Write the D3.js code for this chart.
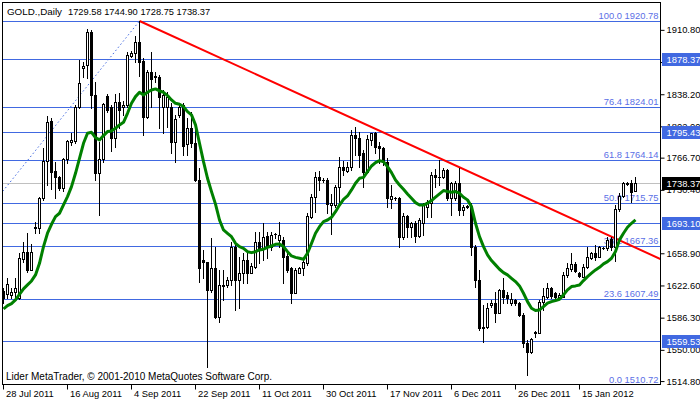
<!DOCTYPE html>
<html><head><meta charset="utf-8">
<script src="https://cdn.jsdelivr.net/npm/d3@7"></script>
<style>
html,body{margin:0;padding:0;background:#fff;}
svg{display:block;font-family:"Liberation Sans",Arial,sans-serif;font-size:9.4px;}
</style></head><body>
<svg id="c" width="700" height="402"></svg>
<script>
// ---------- data ----------
const symbolTitle = "GOLD.,Daily";
const lastOHLC = "1729.58 1744.90 1728.75 1738.37";
const copyright = "Lider MetaTrader, \u00A9 2001-2010 MetaQuotes Software Corp.";
const dateLabels = ["28 Jul 2011","16 Aug 2011","4 Sep 2011","22 Sep 2011","11 Oct 2011","30 Oct 2011","17 Nov 2011","6 Dec 2011","26 Dec 2011","15 Jan 2012"];
const dateLabelBars = [0,16,32,48,64,80,96,112,128,144];
const openV = [
1616.0,1612.7,1611.9,1614.9,1608.2,1652.5,1660.0,1640.1,1687.1,1687.1,
1720.9,1763.0,1808.1,1751.7,1745.3,1732.2,1765.3,1784.8,1785.5,1824.3,
1867.5,1871.2,1908.1,1837.4,1749.1,1765.3,1836.3,1824.3,1789.3,1829.1,
1824.3,1826.1,1881.8,1884.4,1896.8,1875.7,1813.0,1863.0,1857.7,1858.1,
1824.3,1824.3,1824.3,1784.8,1814.9,1826.1,1781.8,1800.6,1782.9,1741.6,
1651.4,1648.8,1617.6,1641.9,1587.4,1622.0,1623.2,1628.8,1666.4,1628.8,
1636.3,1651.3,1637.1,1643.8,1672.0,1664.5,1678.4,1666.4,1680.3,1673.9,
1673.9,1655.8,1641.9,1614.5,1637.1,1641.9,1647.6,1700.2,1722.0,1745.3,
1741.5,1741.5,1713.0,1713.3,1734.0,1756.6,1752.1,1755.8,1792.3,1788.5,
1771.6,1750.9,1786.6,1794.1,1779.9,1777.2,1762.2,1719.7,1720.9,1720.9,
1676.9,1701.0,1688.9,1693.4,1678.4,1692.7,1711.5,1715.3,1747.2,1745.4,
1745.4,1752.9,1720.9,1720.9,1738.6,1707.8,1711.5,1711.5,1666.4,1628.9,
1574.4,1575.5,1600.7,1603.3,1592.0,1617.6,1612.0,1603.3,1606.3,1603.3,
1589.4,1557.5,1548.1,1569.5,1569.5,1604.4,1610.1,1619.5,1613.8,1610.1,
1610.1,1634.5,1640.9,1646.9,1636.4,1632.6,1643.9,1653.3,1658.9,1655.2,
1664.5,1664.6,1674.7,1666.0,1709.0,1724.0,1737.4,1738.0,1729.58];
const highV = [
1620.0,1631.5,1619.4,1630.7,1658.9,1672.0,1681.5,1669.0,1694.6,1722.8,
1778.0,1814.1,1811.1,1762.2,1746.5,1766.8,1786.7,1794.2,1826.1,1876.9,
1875.0,1911.8,1910.7,1852.4,1784.8,1828.0,1838.2,1826.1,1838.9,1839.3,
1830.6,1885.5,1887.0,1904.3,1920.78,1879.5,1865.6,1886.3,1863.0,1860.0,
1843.0,1841.2,1828.0,1814.9,1826.9,1828.0,1811.1,1818.6,1807.3,1754.7,
1662.7,1649.5,1675.8,1666.4,1640.1,1640.1,1632.6,1672.0,1672.0,1655.1,
1658.9,1658.9,1647.6,1683.3,1683.3,1692.7,1683.3,1683.3,1682.2,1694.6,
1677.6,1658.9,1643.8,1641.9,1643.8,1653.2,1704.0,1725.7,1750.9,1751.7,
1743.4,1743.4,1725.7,1735.9,1767.8,1763.3,1762.2,1797.9,1801.7,1796.0,
1775.4,1792.3,1794.9,1796.0,1784.8,1779.1,1766.0,1735.9,1722.0,1722.7,
1704.0,1702.1,1694.6,1695.7,1698.3,1715.3,1719.1,1751.0,1753.6,1764.1,
1754.8,1753.6,1739.7,1740.9,1754.8,1713.4,1713.4,1715.3,1668.3,1640.1,
1600.7,1602.6,1606.3,1615.7,1618.3,1630.7,1615.7,1613.8,1607.1,1604.4,
1591.3,1561.2,1563.1,1571.7,1606.3,1619.5,1625.9,1621.4,1615.7,1613.8,
1638.3,1647.6,1659.7,1649.5,1638.3,1646.9,1665.7,1660.8,1668.3,1667.2,
1665.7,1677.7,1677.7,1713.0,1727.0,1739.0,1739.5,1741.6,1744.90];
const lowV = [
1603.0,1608.2,1608.2,1608.2,1607.4,1649.5,1638.2,1640.1,1681.5,1681.5,
1719.0,1735.9,1731.4,1721.7,1730.3,1729.2,1760.4,1781.0,1782.9,1822.4,
1858.1,1857.0,1822.4,1741.6,1702.1,1762.2,1818.6,1774.3,1779.2,1799.8,
1814.9,1824.3,1880.6,1875.0,1859.2,1792.3,1811.1,1824.3,1852.4,1799.8,
1794.2,1801.7,1771.6,1762.2,1813.0,1769.8,1769.8,1779.2,1740.0,1627.0,
1630.7,1531.1,1615.7,1585.6,1581.8,1606.2,1621.3,1623.2,1595.0,1596.9,
1625.0,1625.0,1636.3,1641.9,1647.6,1651.3,1653.2,1662.6,1675.8,1666.4,
1625.8,1638.2,1602.5,1613.8,1636.3,1634.4,1645.7,1698.3,1705.8,1730.3,
1739.7,1704.0,1680.7,1711.5,1715.2,1747.2,1750.9,1752.8,1769.7,1756.6,
1734.0,1749.0,1781.0,1771.6,1760.3,1758.4,1711.5,1709.6,1719.0,1666.4,
1674.6,1677.6,1677.6,1672.0,1677.6,1679.6,1700.3,1700.3,1734.1,1736.0,
1743.5,1719.1,1702.1,1719.1,1702.1,1702.1,1709.7,1657.0,1621.4,1572.5,
1559.3,1574.4,1598.8,1581.9,1591.3,1602.6,1602.6,1600.7,1600.7,1588.3,
1553.7,1521.8,1546.2,1565.0,1568.7,1595.0,1608.2,1608.2,1608.2,1608.2,
1609.3,1632.6,1639.4,1638.3,1632.6,1631.9,1642.0,1652.2,1651.4,1654.4,
1663.4,1662.7,1662.7,1650.0,1706.0,1722.0,1736.0,1717.0,1728.75];
const closeV = [
1608.0,1624.0,1615.7,1619.4,1653.3,1660.0,1640.1,1660.0,1688.6,1720.9,
1763.0,1807.3,1751.0,1745.3,1732.2,1765.3,1785.5,1786.7,1824.3,1850.6,
1870.5,1908.1,1837.4,1749.1,1765.3,1826.9,1820.5,1789.3,1829.1,1820.5,
1826.1,1882.5,1884.4,1896.8,1875.0,1813.0,1863.0,1855.4,1858.5,1835.5,
1837.4,1835.5,1784.8,1810.3,1824.3,1780.3,1800.6,1782.9,1741.6,1642.0,
1648.8,1617.6,1642.0,1587.4,1623.2,1623.5,1628.8,1666.4,1628.8,1636.3,
1651.3,1636.3,1644.6,1672.0,1662.6,1677.6,1665.6,1679.5,1681.0,1679.5,
1655.1,1640.1,1614.5,1640.1,1641.9,1649.5,1701.0,1722.0,1745.3,1741.5,
1741.9,1714.5,1715.2,1734.0,1756.6,1752.8,1755.8,1792.3,1788.5,1769.7,
1750.9,1787.4,1794.1,1779.1,1777.2,1762.2,1720.9,1723.5,1721.3,1676.9,
1701.0,1688.9,1693.4,1678.4,1696.4,1713.4,1717.2,1747.2,1745.4,1744.6,
1752.9,1720.9,1738.6,1738.6,1707.8,1711.5,1711.9,1666.4,1628.9,1574.4,
1576.3,1596.9,1603.3,1592.0,1617.6,1610.1,1608.2,1607.1,1602.6,1589.4,
1557.5,1548.1,1562.0,1570.6,1604.4,1610.8,1619.5,1610.8,1610.1,1612.0,
1634.5,1642.0,1646.9,1639.4,1633.4,1643.9,1655.2,1658.9,1654.4,1665.7,
1665.0,1674.0,1665.7,1709.0,1724.0,1737.8,1738.0,1728.5,1738.37];
const maV = [
1596.1,1599.9,1602.2,1606.3,1612.7,1618.7,1623.2,1627.7,1634.5,1647.6,
1666.4,1681.5,1691.6,1700.2,1704.0,1713.4,1722.8,1734.1,1749.1,1766.0,
1782.9,1794.2,1795.3,1789.3,1786.7,1791.6,1796.1,1796.8,1799.8,1803.6,
1806.6,1816.7,1828.0,1835.5,1840.4,1837.4,1840.4,1843.0,1844.2,1841.9,
1840.4,1836.7,1831.8,1828.0,1826.9,1824.3,1818.6,1814.9,1803.6,1782.9,
1762.2,1743.5,1728.4,1714.3,1696.4,1685.2,1681.4,1677.6,1670.1,1666.4,
1664.5,1660.7,1659.6,1660.7,1662.6,1663.4,1665.6,1667.1,1669.0,1669.4,
1666.4,1660.7,1655.9,1654.3,1653.2,1652.1,1658.9,1670.1,1681.4,1688.9,
1694.6,1696.4,1699.4,1705.8,1713.3,1719.7,1723.5,1730.3,1737.8,1743.4,
1744.5,1750.9,1757.3,1761.1,1763.3,1762.2,1756.6,1749.8,1741.5,1735.9,
1731.0,1725.8,1720.9,1716.0,1713.3,1713.3,1715.3,1718.3,1722.1,1725.8,
1729.6,1728.5,1727.7,1728.5,1726.6,1722.1,1719.1,1711.5,1692.7,1677.7,
1666.4,1657.0,1650.7,1645.8,1640.9,1637.1,1634.5,1630.7,1627.0,1622.1,
1613.8,1604.4,1596.9,1594.3,1595.0,1598.8,1602.6,1604.4,1605.6,1607.1,
1612.0,1617.6,1621.4,1622.1,1623.2,1628.1,1632.6,1636.4,1640.1,1643.1,
1646.9,1649.5,1653.3,1660.8,1674.0,1681.5,1688.2,1692.7,1696.5];
const priceTicks = [1910.80,1874.50,1838.20,1802.00,1766.70,1730.40,1658.90,1622.60,1586.30,1550.00,1514.80];
const fibNames = ["0.0","23.6","38.2","50.0","61.8","76.4","100.0"];
const fibPrices = [1510.72,1607.49,1667.36,1715.75,1764.14,1824.01,1920.78];
const fibAnchorBars = [-39, 34];
const fibAnchorPrices = [1510.72, 1920.78];
const hLinePrices = [1878.37, 1795.43, 1693.10, 1559.53];
const trendBars = [34, 93];
const trendPrices = [1920.78, 1799.2];
const bidPrice = 1738.37;

// ---------- layout ----------
const L = 2.5, R = 660.5, T = 2.5, B = 384.5;
const svg = d3.select("#c");
svg.append("rect").attr("width",700).attr("height",402).attr("fill","#fff");

const x = d3.scaleLinear().domain([0, openV.length - 1]).range([3.5, 3.5 + 4*(openV.length-1)]);
const y = d3.scaleLinear().domain([1511.5, 1942.2]).range([384, 2]);
const ys = v => Math.round(y(v)) + 0.5;

svg.append("clipPath").attr("id","clip").append("rect")
  .attr("x", L+0.5).attr("y", T+0.5).attr("width", R-L-1).attr("height", B-T-1);
const plot = svg.append("g").attr("clip-path","url(#clip)");

const BLUE = "#4169e1";
plot.selectAll("line.fib").data(fibPrices).join("line")
  .attr("x1", L).attr("x2", R).attr("y1", d=>ys(d)).attr("y2", d=>ys(d))
  .attr("stroke", BLUE).attr("stroke-width",1);
plot.selectAll("line.h").data(hLinePrices).join("line")
  .attr("x1", L).attr("x2", R).attr("y1", d=>ys(d)).attr("y2", d=>ys(d))
  .attr("stroke", BLUE).attr("stroke-width",1);
plot.append("line").attr("x1",L).attr("x2",R).attr("y1",ys(bidPrice)).attr("y2",ys(bidPrice))
  .attr("stroke","#c0c0c0").attr("stroke-width",1);
plot.append("line")
  .attr("x1", x(fibAnchorBars[0])).attr("y1", y(fibAnchorPrices[0]))
  .attr("x2", x(fibAnchorBars[1])).attr("y2", y(fibAnchorPrices[1]))
  .attr("stroke", BLUE).attr("stroke-width",1).attr("stroke-dasharray","1.5,2.5");
plot.selectAll("text.fib").data(fibPrices).join("text")
  .attr("x", 658.5).attr("y", d=>ys(d)-2.5)
  .attr("text-anchor","end").attr("fill","#5b6fe6")
  .text((d,i)=>fibNames[i]+" "+d.toFixed(2));

const tx1 = x(trendBars[0]), ty1 = y(trendPrices[0]);
const tx2 = x(trendBars[1]), ty2 = y(trendPrices[1]);
const slope = (ty2-ty1)/(tx2-tx1);
plot.append("line").attr("x1",tx1).attr("y1",ty1).attr("x2",R).attr("y2",ty1+slope*(R-tx1))
  .attr("stroke","#ff0000").attr("stroke-width",2);

// candles
const idx = d3.range(openV.length);
const cg = plot.append("g");
cg.selectAll("line.w").data(idx).join("line")
  .attr("x1", i=>x(i)).attr("x2", i=>x(i))
  .attr("y1", i=>Math.round(y(highV[i]))).attr("y2", i=>Math.round(y(lowV[i]))+1)
  .attr("stroke","#000").attr("stroke-width",1);
idx.forEach(i=>{
  const o=openV[i], c=closeV[i];
  const top = Math.round(y(Math.max(o,c))), bot = Math.round(y(Math.min(o,c)));
  if (c >= o) {
    if (bot - top < 2) {
      cg.append("rect").attr("x", x(i)-1.5).attr("y", top).attr("width",3).attr("height", bot-top+1).attr("fill","#000");
    } else {
      cg.append("rect").attr("x", x(i)-1).attr("y", top+0.5).attr("width",2).attr("height", bot-top)
        .attr("fill","#fff").attr("stroke","#000").attr("stroke-width",1);
    }
  } else {
    cg.append("rect").attr("x", x(i)-1.5).attr("y", top).attr("width",3).attr("height", Math.max(bot-top+1,1)).attr("fill","#000");
  }
});

// moving average
plot.append("path").datum(maV)
  .attr("d", d3.line().x((d,i)=>x(i)).y(d=>y(d)))
  .attr("fill","none").attr("stroke","#008000").attr("stroke-width",3).attr("stroke-linejoin","round");

// frame
svg.append("rect").attr("x",L).attr("y",T).attr("width",R-L).attr("height",B-T)
  .attr("fill","none").attr("stroke","#000").attr("stroke-width",1);

// right axis
const ay = svg.append("g").attr("transform",`translate(${R},0)`)
  .call(d3.axisRight(y).tickValues(priceTicks).tickFormat(d3.format(".2f")).tickSize(4).tickPadding(2));
ay.select(".domain").remove();
ay.selectAll("text").attr("fill","#000").style("font-family",'"Liberation Sans",Arial,sans-serif').style("font-size","9.4px");
ay.selectAll("line").attr("stroke","#000");

// boxed price labels
const boxes = hLinePrices.map(p=>({p, fill:BLUE})).concat([{p:bidPrice, fill:"#000"}]);
const bg = svg.append("g");
bg.selectAll("rect").data(boxes).join("rect")
  .attr("x", 662).attr("y", d=>ys(d.p)-6.5).attr("width", 38).attr("height", 13).attr("fill", d=>d.fill);
bg.selectAll("text").data(boxes).join("text")
  .attr("x", 666.5).attr("y", d=>ys(d.p)).attr("dy","0.35em").attr("fill","#fff")
  .text(d=>d.p.toFixed(2));

// bottom axis
const ax = svg.append("g").attr("transform",`translate(0,${B})`)
  .call(d3.axisBottom(x).tickValues(dateLabelBars).tickFormat((d,i)=>dateLabels[i]).tickSize(5));
ax.select(".domain").remove();
ax.selectAll("line").attr("stroke","#000").attr("transform","translate(-0.5,0)");
ax.selectAll("text").attr("text-anchor","start").attr("x",2).attr("y",12.5).attr("dy",null)
  .attr("fill","#000").style("font-family",'"Liberation Sans",Arial,sans-serif').style("font-size","9.4px");

// title and copyright
svg.append("text").attr("x",7).attr("y",15).attr("fill","#000").style("font-size","9.8px").text(symbolTitle);
svg.append("text").attr("x",68).attr("y",15).attr("fill","#000").style("font-size","9.3px").text(lastOHLC);
svg.append("text").attr("x",6).attr("y",380).attr("fill","#000").style("font-size","10px").text(copyright);
</script>
</body></html>
